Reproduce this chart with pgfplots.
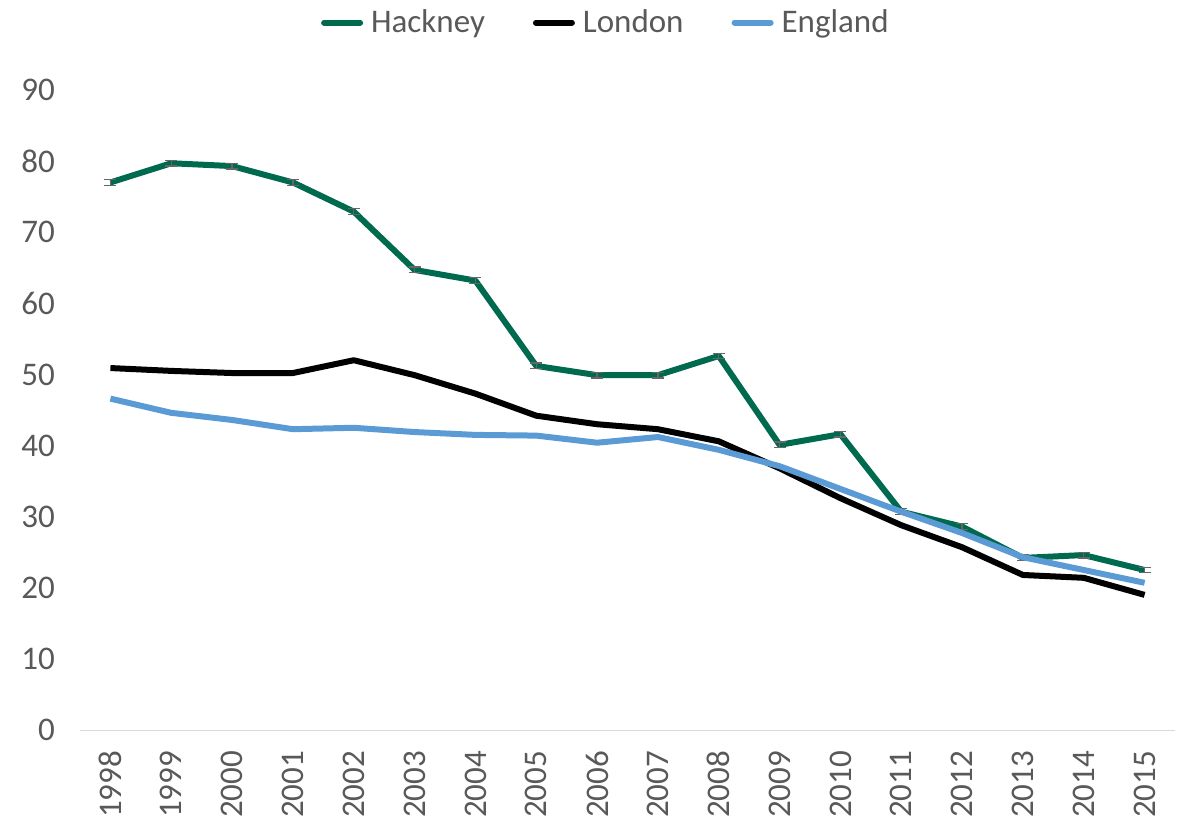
\documentclass[border=0pt]{standalone}
\usepackage{pgfplots}
\pgfplotsset{compat=1.18}
\usepackage{fontspec}
\setmainfont{Carlito}
\definecolor{hack}{RGB}{0,106,78}
\definecolor{eng}{RGB}{91,155,213}
\definecolor{txt}{RGB}{89,89,89}
\begin{document}
\begin{tikzpicture}
\begin{axis}[
  at={(0,0)}, anchor=south west,
  scale only axis, width=547.5pt, height=320pt,
  xmin=-0.5, xmax=17.5, ymin=0, ymax=90,
  ytick={0,10,...,90},
  xtick={0,...,17},
  xticklabels={1998,1999,2000,2001,2002,2003,2004,2005,2006,2007,2008,2009,2010,2011,2012,2013,2014,2015},
  /pgf/number format/assume math mode=true,
  axis x line*=bottom, axis y line*=left,
  x axis line style={draw=black!15, -},
  y axis line style={draw=none},
  major tick length=0pt,
  tick label style={font=\fontsize{16.5}{19}\selectfont, text=txt},
  xticklabel style={rotate=90, anchor=east, xshift=-7pt},
  yticklabel style={xshift=-9pt},
  legend style={at={(0.483,1.0)}, anchor=south, yshift=23pt, draw=none, fill=none,
    legend columns=-1, font=\fontsize{16.5}{19}\selectfont, text=txt,
    nodes={inner xsep=4pt},
    /tikz/every even column/.append style={column sep=20pt}},
  legend image code/.code={\draw[#1, line cap=round] (0pt,0pt) -- (18pt,0pt);},
]
\addplot[hack, line width=3pt, line join=round,
  error bars/.cd, y dir=both, y explicit, error bar style={black!60, line width=0.6pt}, error mark options={rotate=90, mark size=3pt, black!60, line width=0.6pt}]
  coordinates {
  (0,77.0) +- (0,0.4) (1,79.7) +- (0,0.4) (2,79.3) +- (0,0.4) (3,77.0) +- (0,0.4) (4,72.9) +- (0,0.4)
  (5,64.7) +- (0,0.4) (6,63.2) +- (0,0.4) (7,51.2) +- (0,0.4) (8,49.9) +- (0,0.4) (9,49.9) +- (0,0.4)
  (10,52.6) +- (0,0.4) (11,40.1) +- (0,0.4) (12,41.6) +- (0,0.4) (13,30.7) +- (0,0.4) (14,28.6) +- (0,0.4)
  (15,24.2) +- (0,0.4) (16,24.6) +- (0,0.4) (17,22.5) +- (0,0.4)};
\addlegendentry{Hackney}
\addplot[black, line width=3pt, line join=round] coordinates {
  (0,50.9) (1,50.5) (2,50.2) (3,50.2) (4,52.0) (5,49.9) (6,47.3) (7,44.2) (8,43.0)
  (9,42.3) (10,40.6) (11,36.8) (12,32.6) (13,28.8) (14,25.7) (15,21.8) (16,21.4) (17,19.0)};
\addlegendentry{London}
\addplot[eng, line width=3pt, line join=round] coordinates {
  (0,46.6) (1,44.6) (2,43.6) (3,42.3) (4,42.5) (5,41.9) (6,41.5) (7,41.4) (8,40.4)
  (9,41.2) (10,39.4) (11,37.1) (12,33.9) (13,30.7) (14,27.7) (15,24.3) (16,22.5) (17,20.7)};
\addlegendentry{England}
\end{axis}
\pgfresetboundingbox
\useasboundingbox (-40pt,-44pt) rectangle (548.5pt,365pt);
\end{tikzpicture}
\end{document}
